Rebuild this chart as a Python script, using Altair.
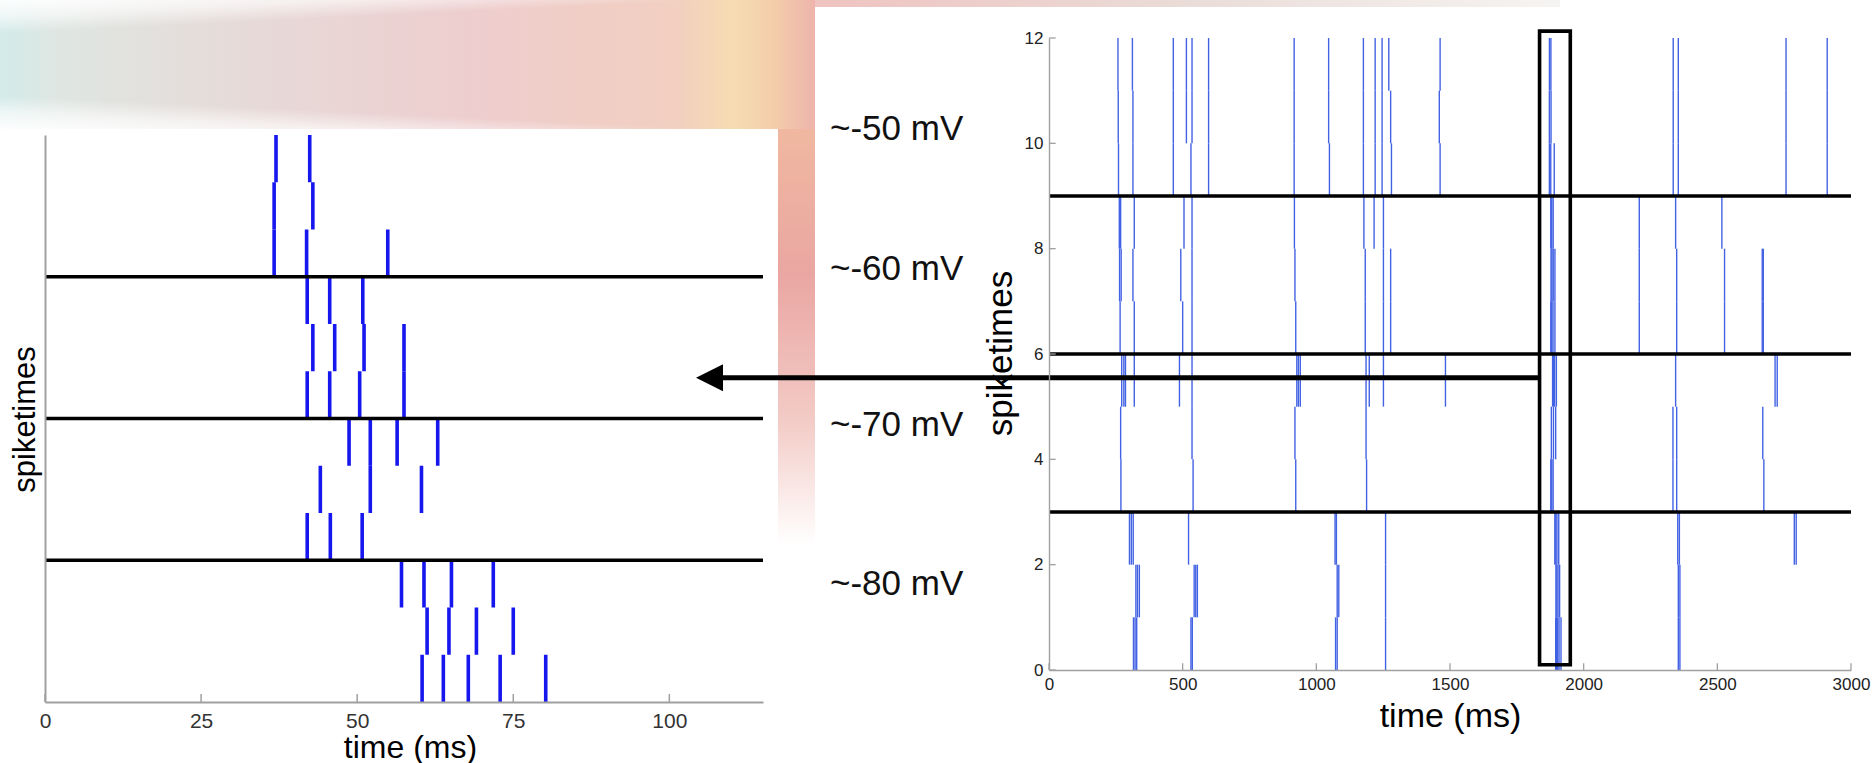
import altair as alt
import pandas as pd

# ---------------------------------------------------------------------------
# Spike trains
# ---------------------------------------------------------------------------
# Zoomed window: spike times in ms from the start of the window (trial 0 = bottom row)
zoom_t0 = [60.4, 63.8, 67.8, 72.9, 80.2]
zoom_t1 = [61.2, 64.7, 69.1, 75.0]
zoom_t2 = [57.1, 60.7, 65.1, 71.8]
zoom_t3 = [42.0, 45.7, 50.8]
zoom_t4 = [44.1, 52.1, 60.3]
zoom_t5 = [48.7, 52.1, 56.4, 62.9]
zoom_t6 = [42.0, 45.6, 50.4, 57.5]
zoom_t7 = [42.9, 46.4, 51.1, 57.5]
zoom_t8 = [42.0, 45.6, 50.9]
zoom_t9 = [36.7, 41.9, 54.9]
zoom_t10 = [36.7, 42.9]
zoom_t11 = [37.0, 42.4]

# Whole 3 s recording, spikes outside the zoomed window (ms)
run_t0 = [316, 322, 328, 531, 536, 1072, 1078, 1259, 2354, 2360]
run_t1 = [325, 331, 338, 543, 549, 555, 1078, 1084, 1259, 2354, 2360]
run_t2 = [301, 308, 315, 522, 1070, 1075, 1259, 2352, 2358, 2788, 2795]
run_t3 = [269, 539, 923, 1188, 2334, 2348, 2674]
run_t4 = [268, 535, 920, 1186, 2334, 2348, 2670]
run_t5 = [272, 280, 286, 319, 488, 535, 927, 933, 940, 1186, 1198, 1251, 1483,
          2344, 2716, 2724]
run_t6 = [266, 319, 500, 535, 923, 1183, 1251, 1278, 2208, 2348, 2527, 2668, 2672]
run_t7 = [264, 270, 314, 493, 535, 920, 1183, 1251, 1278, 2208, 2348, 2527, 2668,
          2672]
run_t8 = [263, 268, 319, 505, 535, 918, 1178, 1216, 1251, 2208, 2344, 2517]
run_t9 = [260, 314, 465, 531, 597, 917, 1049, 1176, 1220, 1246, 1281, 1463, 2335,
          2354, 2757, 2911]
run_t10 = [259, 314, 465, 514, 535, 597, 917, 1046, 1176, 1220, 1246, 1278, 1460,
           2335, 2354, 2757, 2911]
run_t11 = [258, 312, 465, 514, 535, 597, 917, 1046, 1176, 1220, 1246, 1271, 1463,
           2335, 2354, 2757, 2911]

# Zoomed window inside the recording (ms)
window_start = 1835
window_span = 115
run_length = 3000
n_trials = 12
arrow_level = 5.55          # trial axis height of the pointer
window_low, window_high = 0.1, 12.13

# Holding-potential groups (3 trials each) and their labels
group_bounds = [3, 6, 9]
voltage_labels = ["~-50 mV", "~-60 mV", "~-70 mV", "~-80 mV"]

# Axis ticks
zoom_ticks = [0, 25, 50, 75, 100]
run_ticks_x = [0, 500, 1000, 1500, 2000, 2500, 3000]
run_ticks_y = [0, 2, 4, 6, 8, 10, 12]

zoom_rows = [zoom_t0, zoom_t1, zoom_t2, zoom_t3, zoom_t4, zoom_t5,
             zoom_t6, zoom_t7, zoom_t8, zoom_t9, zoom_t10, zoom_t11]
run_rows = [run_t0, run_t1, run_t2, run_t3, run_t4, run_t5,
            run_t6, run_t7, run_t8, run_t9, run_t10, run_t11]

zoom_df = pd.DataFrame(
    [{"trial": k, "t": t} for k, row in enumerate(zoom_rows) for t in row])
run_df = pd.DataFrame(
    [{"trial": k, "t": t} for k, row in enumerate(run_rows) for t in row]
    + [{"trial": k, "t": window_start + t} for k, row in enumerate(zoom_rows) for t in row])
bounds_df = pd.DataFrame({"level": group_bounds})
zoom_ticks_df = pd.DataFrame({"v": zoom_ticks})
run_tx_df = pd.DataFrame({"v": run_ticks_x})
run_ty_df = pd.DataFrame({"v": run_ticks_y})
window_df = pd.DataFrame([{"start": window_start, "end": window_start + window_span,
                           "low": window_low, "high": window_high}])

# ---------------------------------------------------------------------------
# Page layout
# ---------------------------------------------------------------------------
W, H = 1873, 763
FONT = "Liberation Sans"
AXIS_GREY = "#a0a0a0"
BLUE_ZOOM = "#1616ee"
BLUE_RUN = "#4262e4"

ZX, ZY = [45, 763], [702, 135]      # zoomed panel plot area
RX, RY = [1049, 1851], [670, 38]    # full-recording panel plot area

zx = alt.Scale(domain=[0, window_span], range=ZX, nice=False, zero=False)
zy = alt.Scale(domain=[0, n_trials], range=ZY, nice=False, zero=False)
rx = alt.Scale(domain=[0, run_length], range=RX, nice=False, zero=False)
ry = alt.Scale(domain=[0, n_trials], range=RY, nice=False, zero=False)

one_row = alt.Data(values=[{}])


def grad(stops, x1=0, y1=0, x2=1, y2=0):
    return alt.LinearGradient(
        gradient="linear",
        stops=[alt.GradientStop(color=c, offset=o) for o, c in stops],
        x1=x1, y1=y1, x2=x2, y2=y2)


def deco_rect(x0, x1, y0, y1, fill):
    return alt.Chart(one_row).mark_rect(fill=fill, opacity=1).encode(
        x=alt.value(x0), x2=alt.value(x1), y=alt.value(y0), y2=alt.value(y1))


def label(text, x, y, size, align="left", angle=0):
    return alt.Chart(one_row).mark_text(
        text=text, font=FONT, fontSize=size, align=align, baseline="middle",
        angle=angle, color="#111111").encode(x=alt.value(x), y=alt.value(y))


FADE = [(0, "rgba(255,255,255,0.95)"), (0.12, "rgba(255,255,255,0.6)"),
        (0.24, "rgba(255,255,255,0)")]

# slide backdrop
backdrop = [
    deco_rect(0, 815, 0, 129, grad([(0, "#d2ebe9"), (0.07, "#dfe6e2"), (0.3, "#e6dad8"),
                                    (0.6, "#eecdcd"), (0.83, "#f2cfc0"), (0.9, "#f6dcb2"),
                                    (0.95, "#f3cdaa"), (1, "#eeb4ac")])),
    deco_rect(0, 815, 0, 129, grad(FADE, 0, 0, 0.3, 1)),
    deco_rect(0, 815, 0, 129, grad(FADE, 0, 1, 0.3, 0)),
    deco_rect(778, 815, 129, 545, grad([(0, "#f0b8a0"), (0.35, "#eaa6a2"),
                                        (0.7, "#f3cbc6"), (1, "#ffffff")], 0, 0, 0, 1)),
    deco_rect(815, 1560, 0, 7, grad([(0, "#efc3c0"), (0.5, "#eadcd8"), (1, "#f6f4f2")])),
    deco_rect(0, 778, 129, H, "white"),
    deco_rect(815, W, 7, H, "white"),
]

axis_common = dict(grid=False, ticks=False, tickSize=0, zindex=1, labelFont=FONT,
                   titleFont=FONT, titleFontWeight="normal", titleColor="#000000",
                   titleAlign="center", titleBaseline="middle", labelFlush=False,
                   domainColor=AXIS_GREY, format="d")

# ---- zoomed raster ---------------------------------------------------------
zoom_spikes = alt.Chart(zoom_df).transform_calculate(top="datum.trial + 1").mark_rule(
    color=BLUE_ZOOM, strokeWidth=3.6).encode(
    x=alt.X("t:Q", scale=zx, axis=alt.Axis(
        orient="bottom", offset=ZY[0] - H, values=zoom_ticks, labelFontSize=21,
        labelColor="#333333", labelPadding=8, domainWidth=2,
        title="time (ms)", titleFontSize=32, titleX=410, titleY=45, **axis_common)),
    y=alt.Y("trial:Q", scale=zy, axis=alt.Axis(
        orient="left", offset=-ZX[0], labels=False, domainWidth=2,
        title="spiketimes", titleFontSize=31, titleAngle=270,
        titleX=25 - ZX[0], titleY=419, **axis_common)),
    y2="top:Q",
)

zoom_bounds = alt.Chart(bounds_df).mark_rule(color="black", strokeWidth=3.6).encode(
    x=alt.XDatum(0, scale=zx, axis=None),
    x2=alt.X2Datum(window_span),
    y=alt.Y("level:Q", scale=zy, axis=None),
)

zoom_tickmarks = alt.Chart(zoom_ticks_df).mark_rule(color=AXIS_GREY, strokeWidth=1.5).encode(
    x=alt.X("v:Q", scale=zx, axis=None),
    y=alt.YDatum(0, scale=zy, axis=None),
    y2=alt.Y2Datum(0.17),
)

# ---- full-recording raster ---------------------------------------------------
run_spikes = alt.Chart(run_df).transform_calculate(top="datum.trial + 1").mark_rule(
    color=BLUE_RUN, strokeWidth=1.4).encode(
    x=alt.X("t:Q", scale=rx, axis=alt.Axis(
        orient="bottom", offset=RY[0] - H, values=run_ticks_x, labelFontSize=17,
        labelColor="#222222", labelPadding=6, domainWidth=1.4,
        title="time (ms)", titleFontSize=34, titleX=1450, titleY=46, **axis_common)),
    y=alt.Y("trial:Q", scale=ry, axis=alt.Axis(
        orient="left", offset=-RX[0], values=run_ticks_y, labelFontSize=17,
        labelColor="#222222", labelPadding=6, domainWidth=1.4,
        title="spiketimes", titleFontSize=35, titleAngle=270,
        titleX=1000 - RX[0], titleY=353, **axis_common)),
    y2="top:Q",
)

run_bounds = alt.Chart(bounds_df).mark_rule(color="black", strokeWidth=3.6).encode(
    x=alt.XDatum(0, scale=rx, axis=None),
    x2=alt.X2Datum(run_length),
    y=alt.Y("level:Q", scale=ry, axis=None),
)

run_xticks = alt.Chart(run_tx_df).mark_rule(color=AXIS_GREY, strokeWidth=1.3).encode(
    x=alt.X("v:Q", scale=rx, axis=None),
    y=alt.YDatum(0, scale=ry, axis=None),
    y2=alt.Y2Datum(0.13),
)

run_yticks = alt.Chart(run_ty_df).mark_rule(color=AXIS_GREY, strokeWidth=1.3).encode(
    x=alt.XDatum(0, scale=rx, axis=None),
    x2=alt.X2Datum(25),
    y=alt.Y("v:Q", scale=ry, axis=None),
)

window_box = alt.Chart(window_df).mark_rect(
    filled=False, color="black", strokeWidth=3.6).encode(
    x=alt.X("start:Q", scale=rx, axis=None), x2="end:Q",
    y=alt.Y("low:Q", scale=ry, axis=None), y2="high:Q",
)

# pointer from the window to the zoomed panel
arrow_shaft = alt.Chart(one_row).mark_rule(color="black", strokeWidth=5).encode(
    x=alt.XDatum(window_start, scale=rx, axis=None),
    x2=alt.value(722),
    y=alt.YDatum(arrow_level, scale=ry, axis=None),
)
arrow_head = alt.Chart(one_row).mark_point(
    shape="M-1,0L1,-1L1,1Z", filled=True, color="black", opacity=1, size=729).encode(
    x=alt.value(709.5),
    y=alt.YDatum(arrow_level, scale=ry, axis=None),
)

voltage_text = [label(t, 830, y, 35) for t, y in zip(voltage_labels, [129, 269, 425, 584])]

layers = backdrop + [zoom_spikes, zoom_bounds, zoom_tickmarks,
                     run_spikes, run_bounds, run_xticks, run_yticks, window_box,
                     arrow_shaft, arrow_head] + voltage_text

chart = alt.layer(*layers).resolve_scale(
    x="independent", y="independent"
).properties(
    width=W, height=H, padding=0, background="white",
    autosize=alt.AutoSizeParams(type="none"),
).configure_view(strokeWidth=0)

chart.save("out.html", embed_options={"renderer": "svg", "actions": False})
